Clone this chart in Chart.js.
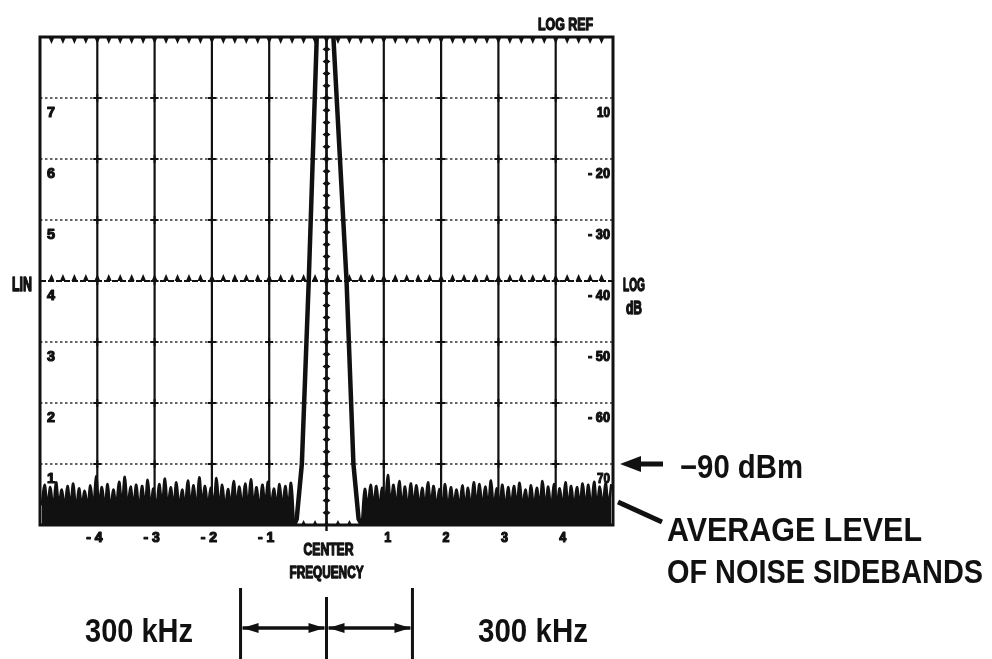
<!DOCTYPE html>
<html>
<head>
<meta charset="utf-8">
<script src="https://cdn.jsdelivr.net/npm/chart.js@4"></script>
<style>
  html,body{margin:0;padding:0;background:#fff;}
  #c{display:block;}
</style>
</head>
<body>
<canvas id="c" width="992" height="659"></canvas>
<script>
// ---- data ----
const xTickValues = [-4, -3, -2, -1, 1, 2, 3, 4];
const xTickLabels = ['- 4', '- 3', '- 2', '- 1', '1', '2', '3', '4'];
const yGridValues = [1, 2, 3, 4, 5, 6, 7];
const linLabels = ['1', '2', '3', '4', '5', '6', '7'];
const logLabels = ['70', '- 60', '- 50', '- 40', '- 30', '- 20', '10'];

// carrier trace (divisions from centre, divisions up from bottom)
const carrierX = [-0.60, -0.55, -0.52, -0.43, -0.31, -0.17, -0.06, 0.12, 0.35, 0.47, 0.56, 0.60];
const carrierY = [0.03, 0.03, 0.10, 1.0, 4.0, 8.0, 11.1, 8.0, 4.0, 1.0, 0.10, 0.03];

// noise sidebands, sampled every 0.05 div
const noiseLeftStart = -4.97;
const noiseRightStart = 0.62;
const noiseStep = 0.05;
const noiseLeft = [
  0.32,0.66,0.34,0.62,0.28,0.70,0.35,0.58,0.30,0.64,
  0.33,0.68,0.26,0.60,0.34,0.56,0.31,0.65,0.29,0.80,
  0.36,0.62,0.31,0.67,0.27,0.58,0.33,0.71,0.35,0.79,
  0.30,0.63,0.33,0.66,0.25,0.64,0.34,0.74,0.31,0.60,
  0.28,0.67,0.36,0.76,0.30,0.62,0.33,0.70,0.29,0.58,
  0.32,0.73,0.34,0.65,0.27,0.78,0.37,0.64,0.31,0.61,
  0.34,0.77,0.30,0.66,0.28,0.59,0.33,0.72,0.35,0.63,
  0.30,0.68,0.32,0.75,0.34,0.62,0.27,0.66,0.36,0.71,
  0.31,0.60,0.33,0.67,0.29,0.64,0.32,0.69,0.05
];
const noiseRight = [
  0.05,0.59,0.31,0.66,0.33,0.64,0.28,0.61,0.34,0.82,
  0.36,0.66,0.30,0.72,0.33,0.63,0.27,0.68,0.35,0.65,
  0.30,0.61,0.32,0.70,0.36,0.64,0.29,0.59,0.33,0.67,
  0.26,0.62,0.34,0.58,0.30,0.65,0.32,0.61,0.28,0.70,
  0.35,0.67,0.30,0.63,0.33,0.73,0.29,0.60,0.34,0.66,
  0.27,0.62,0.32,0.64,0.35,0.69,0.30,0.58,0.33,0.65,
  0.29,0.61,0.34,0.72,0.31,0.63,0.27,0.67,0.35,0.60,
  0.30,0.70,0.33,0.64,0.29,0.62,0.35,0.68,0.32,0.66,
  0.28,0.71,0.34,0.63,0.31,0.69,0.35,0.67
];

const INK = '#111';
const toPoints = (start, step, ys) => ys.map((y, i) => ({x: +(start + i * step).toFixed(3), y}));
const carrierPts = carrierX.map((x, i) => ({x, y: carrierY[i]}));

function font(size) { return 'bold ' + size + 'px "Liberation Sans", Arial, sans-serif'; }
function txt(ctx, s, x, y, size, align, maxW, heavy) {
  ctx.font = font(size);
  ctx.textAlign = align || 'left';
  ctx.textBaseline = 'alphabetic';
  if (heavy) {
    ctx.lineWidth = heavy; ctx.lineJoin = 'round';
    if (maxW) ctx.strokeText(s, x, y, maxW); else ctx.strokeText(s, x, y);
  }
  if (maxW) ctx.fillText(s, x, y, maxW); else ctx.fillText(s, x, y);
}

const gridPlugin = {
  id: 'scopeGrid',
  beforeDatasetsDraw(chart) {
    const {ctx, chartArea: a, scales: {x, y}} = chart;
    ctx.save();
    ctx.strokeStyle = INK; ctx.fillStyle = INK;
    // vertical solid lines
    ctx.lineWidth = 2.2;
    for (let v = -4; v <= 4; v++) {
      const px = x.getPixelForValue(v);
      ctx.beginPath(); ctx.moveTo(px, a.top); ctx.lineTo(px, a.bottom); ctx.stroke();
    }
    // horizontal dotted lines
    ctx.strokeStyle = '#333';
    ctx.lineWidth = 1.6;
    ctx.setLineDash([2.5, 2.5]);
    yGridValues.forEach(v => {
      if (v === 4) return;
      const py = y.getPixelForValue(v);
      ctx.beginPath(); ctx.moveTo(a.left, py); ctx.lineTo(a.right, py); ctx.stroke();
    });
    ctx.strokeStyle = INK;
    ctx.setLineDash([6, 2]);
    ctx.lineWidth = 2;
    { const py = y.getPixelForValue(4);
      ctx.beginPath(); ctx.moveTo(a.left, py); ctx.lineTo(a.right, py); ctx.stroke(); }
    ctx.setLineDash([]);
    // crosses at intersections
    ctx.lineWidth = 2;
    for (let v = -4; v <= 4; v++) {
      const px = x.getPixelForValue(v);
      yGridValues.forEach(w => {
        const py = y.getPixelForValue(w);
        ctx.beginPath(); ctx.moveTo(px - 4, py); ctx.lineTo(px + 4, py);
        ctx.moveTo(px, py - 4); ctx.lineTo(px, py + 4); ctx.stroke();
      });
    }
    // minor ticks: top border (down), centre line (up), bottom (up)
    for (let i = -24; i <= 24; i++) {
      const v = i * 0.2;
      const px = x.getPixelForValue(v);
      const tri = (py, dir, h, w) => {
        ctx.beginPath(); ctx.moveTo(px - w, py); ctx.lineTo(px + w, py); ctx.lineTo(px, py + dir * h); ctx.closePath(); ctx.fill();
      };
      tri(a.top, 1, 7, 3);
      tri(y.getPixelForValue(4), -1, 7, 3);
      tri(a.bottom, -1, 5, 2.5);
    }
    // centre vertical line with ticks
    const cx = x.getPixelForValue(0);
    ctx.lineWidth = 2.4;
    ctx.beginPath(); ctx.moveTo(cx, a.top); ctx.lineTo(cx, a.bottom + 6); ctx.stroke();
    for (let i = 1; i < 40; i++) {
      const py = y.getPixelForValue(i * 0.2);
      ctx.beginPath(); ctx.moveTo(cx - 4, py); ctx.lineTo(cx, py - 3); ctx.lineTo(cx + 4, py); ctx.lineTo(cx, py + 3); ctx.closePath(); ctx.fill();
    }
    // border
    ctx.lineWidth = 3;
    ctx.strokeRect(a.left, a.top, a.right - a.left, a.bottom - a.top);
    ctx.restore();
  },
  afterDraw(chart) {
    const {ctx, chartArea: a, scales: {x, y}} = chart;
    ctx.save();
    ctx.fillStyle = INK; ctx.strokeStyle = INK;
    // in-plot scale labels
    yGridValues.forEach((v, i) => {
      const py = y.getPixelForValue(v) + 19;
      txt(ctx, linLabels[i], a.left + 11, py, 15, 'center', 8, 1.2);
      txt(ctx, logLabels[i], a.right - 3, py, 15, 'right', logLabels[i].length > 2 ? 22 : 13, 1.2);
    });
    // x tick labels
    xTickValues.forEach((v, i) => {
      const px = x.getPixelForValue(v) + (v > 0 ? 3 + v : -3);
      txt(ctx, xTickLabels[i], px, a.bottom + 17, 14, 'center', xTickLabels[i].length > 1 ? 17 : 7, 1.2);
    });
    const cx = x.getPixelForValue(0);
    txt(ctx, 'CENTER', cx + 2, a.bottom + 30, 16, 'center', 50, 1.3);
    txt(ctx, 'FREQUENCY', cx, a.bottom + 53, 16, 'center', 74, 1.3);
    txt(ctx, 'LOG REF', a.right - 20, a.top - 7, 16, 'right', 55, 1.3);
    txt(ctx, 'LIN', 22, y.getPixelForValue(4) + 10, 20, 'center', 20, 1.5);
    txt(ctx, 'LOG', a.right + 21, y.getPixelForValue(4) + 10, 18, 'center', 22, 1.4);
    txt(ctx, 'dB', a.right + 21, y.getPixelForValue(4) + 33, 18, 'center', 16, 1.4);

    // -90 dBm arrow
    const ay = y.getPixelForValue(1);
    ctx.lineWidth = 5;
    ctx.beginPath(); ctx.moveTo(a.right + 50, ay); ctx.lineTo(a.right + 22, ay); ctx.stroke();
    ctx.beginPath(); ctx.moveTo(a.right + 7, ay); ctx.lineTo(a.right + 28, ay - 8); ctx.lineTo(a.right + 28, ay + 8); ctx.closePath(); ctx.fill();
    txt(ctx, '\u221290 dBm', 680, 478, 33, 'left', 123);
    // average level pointer
    ctx.lineWidth = 5;
    ctx.beginPath(); ctx.moveTo(a.right + 5, 502); ctx.lineTo(662, 522); ctx.stroke();
    txt(ctx, 'AVERAGE LEVEL', 667, 541, 33, 'left', 255);
    txt(ctx, 'OF NOISE SIDEBANDS', 667, 583, 33, 'left', 316);

    // span bracket
    const lx = x.getPixelForValue(-1.5), rx = x.getPixelForValue(1.5);
    ctx.lineWidth = 3;
    ctx.beginPath();
    ctx.moveTo(lx, 588); ctx.lineTo(lx, 659);
    ctx.moveTo(cx, 597); ctx.lineTo(cx, 659);
    ctx.moveTo(rx, 588); ctx.lineTo(rx, 659);
    ctx.stroke();
    const by = 628;
    ctx.lineWidth = 3.5;
    ctx.beginPath(); ctx.moveTo(lx + 2, by); ctx.lineTo(cx - 2, by); ctx.moveTo(cx + 2, by); ctx.lineTo(rx - 2, by); ctx.stroke();
    const head = (tip, dir) => { ctx.beginPath(); ctx.moveTo(tip, by); ctx.lineTo(tip + dir * 16, by - 5); ctx.lineTo(tip + dir * 16, by + 5); ctx.closePath(); ctx.fill(); };
    head(lx + 2, 1); head(cx - 2, -1); head(cx + 2, 1); head(rx - 2, -1);
    txt(ctx, '300 kHz', 85, 642, 34, 'left', 108);
    txt(ctx, '300 kHz', 478, 642, 34, 'left', 110);
    ctx.restore();
  }
};

new Chart(document.getElementById('c'), {
  type: 'line',
  data: {
    datasets: [
      { data: toPoints(noiseLeftStart, noiseStep, noiseLeft), borderColor: INK, backgroundColor: INK, borderWidth: 2.5, fill: 'origin', tension: 0.4, pointRadius: 0 },
      { data: toPoints(noiseRightStart, noiseStep, noiseRight), borderColor: INK, backgroundColor: INK, borderWidth: 2.5, fill: 'origin', tension: 0.4, pointRadius: 0 },
      { data: carrierPts, borderColor: INK, borderWidth: 4.5, fill: false, tension: 0, pointRadius: 0 }
    ]
  },
  options: {
    responsive: false,
    animation: false,
    devicePixelRatio: 1,
    layout: { padding: { left: 40, top: 37, right: 379, bottom: 134 } },
    plugins: { legend: { display: false }, tooltip: { enabled: false } },
    scales: {
      x: { type: 'linear', min: -5, max: 5, display: false },
      y: { type: 'linear', min: 0, max: 8, display: false }
    }
  },
  plugins: [gridPlugin]
});
</script>
</body>
</html>
